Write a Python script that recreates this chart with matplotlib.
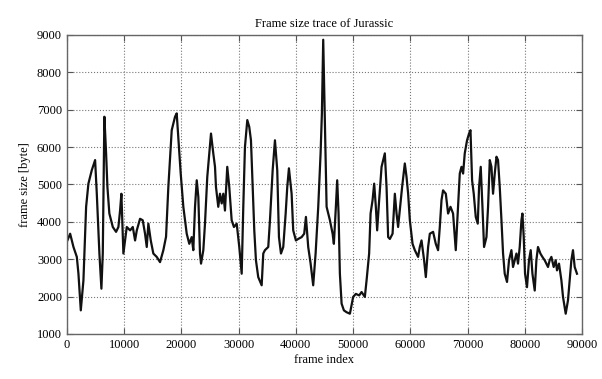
import numpy as np
import matplotlib.pyplot as plt

# frame size trace
frames = [100, 580, 1160, 1745, 2030, 2440, 2900, 3370, 3770, 4360, 4940, 5235,
          5690, 6040, 6280, 6560, 6860, 7090, 7430, 8030, 8600, 9010, 9300, 9530,
          9880, 10170, 10470, 11050, 11520, 11920, 12220, 12790, 13260, 13660,
          13960, 14240, 14660, 15110, 15700, 16280, 16860, 17330, 17730, 18320,
          18900, 19190, 19470, 19890, 20350, 20940, 21390, 21810, 22090, 22390,
          22690, 22970, 23260, 23440, 23840, 24130, 24530, 24880, 25180, 25580,
          25880, 26050, 26450, 26750, 27050, 27330, 27620, 28020, 28370, 28790,
          29190, 29670, 30120, 30540, 30820, 31110, 31520, 31860, 32160, 32460,
          32740, 33030, 33430, 34030, 34310, 34600, 35180, 35480, 35950, 36350,
          36750, 37050, 37400, 37800, 38220, 38500, 38790, 39260, 39540, 40010,
          40410, 41010, 41460, 41760, 42160, 42580, 43030, 43450, 43910, 44320,
          44550, 44780, 45070, 45370, 45950, 46420, 46640, 46990, 47220, 47460,
          47690, 47990, 48390, 48860, 49440, 50010, 50480, 51060, 51480, 52050,
          52350, 52800, 53050, 53400, 53680, 53970, 54200, 54550, 54970, 55540,
          55840, 56120, 56420, 56890, 57290, 57590, 57860, 58160, 58560, 59030,
          59330, 59610, 59910, 60380, 60780, 61350, 61650, 61950, 62400, 62700,
          63100, 63400, 63970, 64440, 64840, 65140, 65440, 65710, 66190, 66590,
          67010, 67460, 67930, 68330, 68630, 68930, 69210, 69500, 69900, 70250,
          70500, 70780, 71070, 71420, 71770, 72000, 72290, 72590, 72870, 73290,
          73570, 73870, 74160, 74440, 74740, 75040, 75310, 75610, 75910, 76190,
          76480, 76880, 77230, 77650, 77930, 78230, 78530, 78800, 79100, 79400,
          79570, 79800, 80030, 80370, 80720, 81020, 81320, 81720, 82010, 82290,
          82710, 83060, 83460, 84040, 84330, 84630, 85030, 85380, 85610, 85960,
          86380, 86660, 87130, 87530, 87830, 88120, 88400, 88700, 89100]
sizes = [3500, 3680, 3325, 3060, 2610, 1630, 2430, 4400, 5020, 5380, 5650, 4750,
         3150, 2210, 3150, 6810, 5830, 4930, 4220, 3860, 3730, 3860, 4300, 4750,
         3150, 3500, 3860, 3770, 3860, 3500, 3770, 4080, 4040, 3680,
         3325, 3950, 3500, 3150, 3060, 2920, 3240, 3600, 4930, 6450,
         6810, 6900, 6270, 5290, 4400, 3680, 3410, 3590, 3240, 4400,
         5110, 4660, 3150, 2880, 3240, 3950, 5200, 5830, 6360, 5830,
         5470, 4930, 4400, 4750, 4490, 4750, 4300, 5470, 4930, 4040,
         3860, 3950, 3325, 2610, 4400, 6000, 6720, 6540, 6180, 4930,
         3770, 2970, 2520, 2300, 3150, 3240, 3325, 4040, 5380, 6180,
         5380, 3590, 3150, 3325, 4220, 4930, 5430, 4750, 3770, 3500,
         3540, 3590, 3680, 4130, 3325, 2880, 2300, 3150, 4400, 5830,
         6900, 8870, 6720, 4400, 4040, 3680, 3410, 4400, 5110, 4220,
         2610, 1810, 1630, 1580, 1540, 1990, 2070, 2030, 2120, 1990,
         2430, 3150, 4220, 4580, 5020, 4400, 3770, 4580, 5470, 5830,
         4930, 3590, 3540, 3680, 4750, 4220, 3860, 4310, 4930, 5560,
         5200, 4750, 4040, 3410, 3240, 3060, 3325, 3500, 2970, 2520,
         3325, 3680, 3730, 3410, 3240, 3860, 4580, 4840, 4750, 4220,
         4400, 4220, 3240, 4400, 5290, 5470, 5290, 5830, 6180, 6360,
         6450, 5110, 4750, 4130, 3950, 4930, 5470, 4400, 3325, 3590,
         4400, 5650, 5470, 4750, 5290, 5740, 5650, 4930, 4040, 3150,
         2610, 2390, 2970, 3240, 2790, 2970, 3150, 2880, 3325, 4040,
         4220, 3590, 2610, 2250, 2970, 3240, 2610, 2160, 2970, 3325,
         3150, 3060, 2970, 2790, 2970, 3060, 2790, 2970, 2700, 2880,
         2430, 1990, 1540, 1900, 2430, 2970, 3240, 2790, 2610]

xticks = [0, 10000, 20000, 30000, 40000, 50000, 60000, 70000, 80000, 90000]
yticks = [1000, 2000, 3000, 4000, 5000, 6000, 7000, 8000, 9000]

plt.rcParams['font.family'] = ['Liberation Serif', 'DejaVu Serif']

fig = plt.figure(figsize=(6.02, 3.79), dpi=100)
ax = fig.add_axes([0.111, 0.119, 0.856, 0.789])

ax.plot(frames, sizes, color='#111111', linewidth=1.6)

ax.set_xlim(0, 90000)
ax.set_ylim(1000, 9000)
ax.set_xticks(xticks)
ax.set_yticks(yticks)
ax.tick_params(direction='in', top=True, right=True, length=4, labelsize=9,
               color='#555555')
ax.grid(color='#777777', linestyle=':', linewidth=0.8)
for s in ax.spines.values():
    s.set_color('#666666')
    s.set_linewidth(1.0)

ax.set_title('Frame size trace of Jurassic', fontsize=9, pad=6)
ax.set_xlabel('frame index', fontsize=9, labelpad=2)
ax.set_ylabel('frame size [byte]', fontsize=9, labelpad=4)

fig.savefig('out.png', dpi=100)
